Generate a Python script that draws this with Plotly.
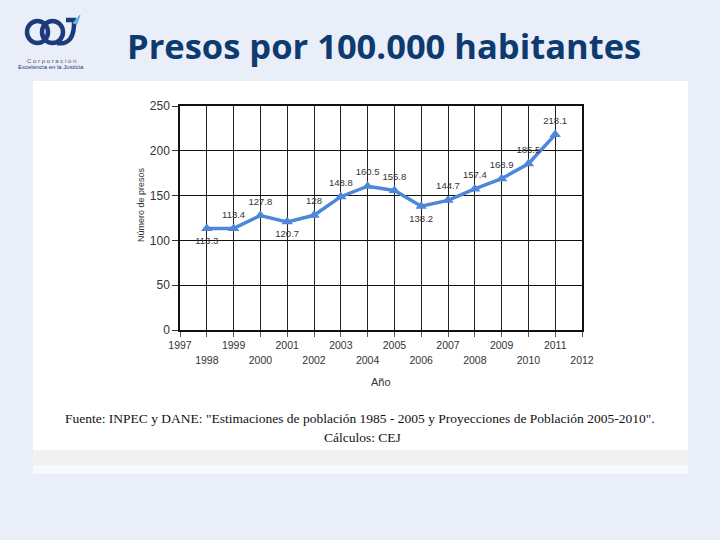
import plotly.graph_objects as go

# ---- data ----
years = [1998, 1999, 2000, 2001, 2002, 2003, 2004, 2005, 2006, 2007, 2008, 2009, 2010, 2011]
presos = [113.3, 113.4, 127.8, 120.7, 128, 148.8, 160.5, 155.8, 138.2, 144.7, 157.4, 168.9, 185.5, 218.1]
labels = ["113.3", "113.4", "127.8", "120.7", "128", "148.8", "160.5", "155.8", "138.2", "144.7", "157.4", "168.9", "185.5", "218.1"]
label_pos = ["bottom center", "top center", "top center", "bottom center", "top center", "top center",
             "top center", "top center", "bottom center", "top center", "top center", "top center",
             "top center", "top center"]
tick_years = list(range(1997, 2013))
odd_text = [str(y) if y % 2 == 1 else "" for y in tick_years]
even_years = [y for y in tick_years if y % 2 == 0]
even_text = [str(y) for y in even_years]
y_ticks = [0, 50, 100, 150, 200, 250]

W, H = 720, 540
def px(x): return x / W
def py(y): return 1 - y / H

LINE_BLUE = "#4d87d9"
NARROW = "Liberation Sans Narrow, Liberation Sans, Arial"

fig = go.Figure()
fig.add_trace(go.Scatter(
    x=years, y=presos, mode="lines+markers",
    line=dict(color=LINE_BLUE, width=3.5),
    marker=dict(symbol="triangle-up", size=10, color=LINE_BLUE),
    showlegend=False, cliponaxis=False, hoverinfo="skip",
))
# value labels (invisible markers give the label offset)
fig.add_trace(go.Scatter(
    x=years, y=presos, mode="markers+text",
    marker=dict(size=12, color="rgba(0,0,0,0)"),
    text=labels, textposition=label_pos,
    textfont=dict(family=NARROW, size=9.5, color="#333333"),
    showlegend=False, cliponaxis=False,
))
# carrier for the second (even-year) label row
fig.add_trace(go.Scatter(
    x=even_years, y=[None] * len(even_years), xaxis="x2", yaxis="y",
    mode="markers", showlegend=False, hoverinfo="skip",
))

shapes = [
    # white content box
    dict(type="rect", xref="paper", yref="paper", x0=px(33), x1=px(688), y0=py(450), y1=py(81),
         fillcolor="white", line=dict(width=0), layer="below"),
    dict(type="rect", xref="paper", yref="paper", x0=px(33), x1=px(688), y0=py(465), y1=py(450),
         fillcolor="#f1f1f1", line=dict(width=0), layer="below"),
    dict(type="rect", xref="paper", yref="paper", x0=px(33), x1=px(688), y0=py(474), y1=py(465),
         fillcolor="#f6f9fe", line=dict(width=0), layer="below"),
    # logo rings
    dict(type="circle", xref="paper", yref="paper", x0=px(27), x1=px(48), y0=py(43), y1=py(21),
         line=dict(color="#1d3a7a", width=4.5)),
    dict(type="circle", xref="paper", yref="paper", x0=px(42), x1=px(63), y0=py(43), y1=py(21),
         line=dict(color="#1d3a7a", width=4.5)),
    dict(type="path", xref="paper", yref="paper",
         path=f"M {px(66)} {py(20)} L {px(74)} {py(20)} Q {px(75)} {py(46)} {px(57)} {py(43)}",
         line=dict(color="#1d3a7a", width=4.5)),
    dict(type="path", xref="paper", yref="paper",
         path=f"M {px(73)} {py(23)} L {px(80)} {py(15)} L {px(77)} {py(24)} Z",
         fillcolor="#5fb6e6", line=dict(color="#5fb6e6", width=1)),
]

annotations = [
    dict(text="<b>Presos por 100.000 habitantes</b>", xref="paper", yref="paper",
         x=px(384), y=py(45), xanchor="center", yanchor="middle", showarrow=False,
         font=dict(family="Open Sans, Lato, sans-serif", size=34.5, color="#0d3b70")),
    dict(text="C o r p o r a c i ó n", xref="paper", yref="paper",
         x=px(51), y=py(61), xanchor="center", yanchor="middle", showarrow=False,
         font=dict(family="Liberation Sans, Arial", size=6, color="#555")),
    dict(text="Excelencia en la Justicia", xref="paper", yref="paper",
         x=px(51), y=py(67), xanchor="center", yanchor="middle", showarrow=False,
         font=dict(family=NARROW, size=6, color="#1d3a7a")),
    dict(text='Fuente: INPEC y DANE: "Estimaciones de población 1985 - 2005 y Proyecciones de Población 2005-2010".',
         xref="paper", yref="paper", x=px(360), y=py(418), xanchor="center", yanchor="middle",
         showarrow=False, font=dict(family="Liberation Serif, Times New Roman, serif", size=13.5, color="#111")),
    dict(text="Cálculos: CEJ", xref="paper", yref="paper", x=px(362), y=py(437),
         xanchor="center", yanchor="middle", showarrow=False,
         font=dict(family="Liberation Serif, Times New Roman, serif", size=13.5, color="#111")),
    # axis titles
    dict(text="Año", xref="paper", yref="paper", x=px(381), y=py(382),
         xanchor="center", yanchor="middle", showarrow=False,
         font=dict(family=NARROW, size=11, color="#333")),
    dict(text="Número de presos", xref="paper", yref="paper", x=px(141), y=py(205),
         xanchor="center", yanchor="middle", showarrow=False, textangle=-90,
         font=dict(family=NARROW, size=9, color="#333")),
]

tick_font = dict(family=NARROW, size=10.5, color="#333333")

fig.update_layout(
    width=W, height=H, autosize=False,
    margin=dict(l=0, r=0, t=0, b=0, pad=0),
    paper_bgcolor="#e9eef9", plot_bgcolor="white",
    shapes=shapes, annotations=annotations,
    xaxis=dict(domain=[px(180), px(582)], range=[1997, 2012], automargin=False,
               tickvals=tick_years, ticktext=odd_text, tickfont=tick_font,
               showgrid=True, gridcolor="#222222", gridwidth=1,
               showline=True, linecolor="#111111", linewidth=1.5, mirror=True,
               ticks="outside", ticklen=5, tickcolor="#555", zeroline=False),
    xaxis2=dict(domain=[px(180), px(582)], range=[1997, 2012], automargin=False,
                overlaying="x", anchor="y", side="bottom",
                tickvals=even_years, ticktext=even_text, tickfont=tick_font,
                showgrid=False, showline=False, zeroline=False,
                ticks="outside", ticklen=5, tickcolor="rgba(0,0,0,0)",
                ticklabelstandoff=15),
    yaxis=dict(domain=[py(330), py(106)], range=[0, 250], automargin=False,
               tickvals=y_ticks, tickfont=dict(family=NARROW, size=12, color="#333"),
               showgrid=True, gridcolor="#111111", gridwidth=1.3,
               showline=True, linecolor="#111111", linewidth=1.5, mirror=True,
               ticks="outside", ticklen=6, tickcolor="#333", zeroline=False),
)

fig.write_html("out.html", config={"displayModeBar": False},
               post_script="document.body.style.margin='0';document.body.style.overflow='hidden';")
